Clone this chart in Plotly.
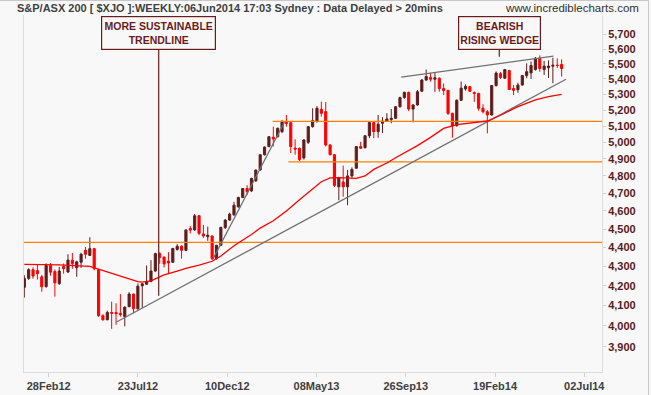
import pandas as pd
import plotly.graph_objects as go

# ---------------- data ----------------
first_week = "2012-01-27"   # weekly bars, Friday dates

opens = [4192, 4238, 4283, 4278, 4246, 4196, 4305, 4273, 4212, 4300,
         4271, 4333, 4293, 4322, 4385, 4358, 4394, 4283, 4050, 4030,
         4066, 4066, 4062, 4046, 4095, 4158, 4084, 4200, 4208, 4222,
         4276, 4367, 4349, 4328, 4322, 4390, 4407, 4385, 4503, 4495,
         4573, 4473, 4458, 4462, 4341, 4412, 4508, 4549, 4579, 4623,
         4676, 4727, 4713, 4771, 4835, 4925, 4974, 5031, 5034, 5065,
         5123, 5120, 4965, 4964, 4906, 5000, 5096, 5128, 5205, 5190,
         4984, 4925, 4737, 4765, 4737, 4800, 4845, 4974, 4968, 5040,
         5121, 5065, 5117, 5131, 5140, 5148, 5221, 5279, 5313, 5206,
         5232, 5320, 5393, 5409, 5398, 5405, 5337, 5325, 5180, 5102,
         5262, 5335, 5350, 5312, 5306, 5211, 5189, 5169, 5357, 5435,
         5405, 5455, 5337, 5330, 5360, 5422, 5440, 5462, 5537, 5462,
         5474, 5484, 5491, 5496]

highs = [4254, 4290, 4295, 4310, 4256, 4316, 4318, 4284, 4298, 4315,
         4364, 4371, 4330, 4372, 4403, 4455, 4398, 4286, 4058, 4075,
         4120, 4112, 4158, 4095, 4168, 4160, 4212, 4214, 4305, 4333,
         4372, 4375, 4352, 4375, 4398, 4418, 4412, 4497, 4516, 4583,
         4578, 4522, 4513, 4465, 4414, 4512, 4555, 4590, 4651, 4680,
         4730, 4746, 4790, 4838, 4928, 4975, 5036, 5096, 5090, 5138,
         5169, 5125, 5018, 4968, 5018, 5100, 5211, 5225, 5253, 5250,
         4988, 4930, 4795, 4860, 4835, 4850, 4977, 5003, 5044, 5127,
         5124, 5169, 5155, 5180, 5206, 5224, 5285, 5317, 5317, 5237,
         5328, 5400, 5462, 5441, 5446, 5410, 5370, 5330, 5182, 5267,
         5383, 5365, 5355, 5318, 5310, 5236, 5200, 5360, 5450, 5446,
         5465, 5460, 5360, 5375, 5427, 5503, 5516, 5546, 5557, 5520,
         5523, 5541, 5537, 5530]

lows = [4140, 4230, 4236, 4232, 4170, 4190, 4252, 4145, 4204, 4262,
        4266, 4288, 4246, 4292, 4341, 4355, 4280, 4045, 4026, 4028,
        3986, 4005, 4045, 3998, 4092, 4062, 4080, 4088, 4205, 4218,
        4272, 4314, 4295, 4262, 4318, 4383, 4341, 4380, 4476, 4490,
        4466, 4452, 4436, 4333, 4335, 4408, 4500, 4545, 4572, 4618,
        4672, 4689, 4708, 4766, 4830, 4920, 4970, 4974, 5030, 5056,
        5096, 4935, 4925, 4886, 4896, 4990, 5090, 5120, 5159, 4975,
        4922, 4735, 4660, 4680, 4632, 4787, 4842, 4960, 4962, 5025,
        5025, 5028, 5056, 5125, 5117, 5145, 5215, 5272, 5193, 5123,
        5228, 5315, 5387, 5383, 5317, 5317, 5295, 5169, 5028, 5096,
        5258, 5323, 5315, 5252, 5196, 5179, 5055, 5165, 5350, 5400,
        5400, 5328, 5295, 5310, 5358, 5405, 5400, 5455, 5448, 5427,
        5407, 5372, 5473, 5416]

closes = [4238, 4283, 4250, 4262, 4195, 4305, 4270, 4215, 4276, 4288,
          4333, 4315, 4324, 4364, 4364, 4394, 4288, 4050, 4030, 4066,
          4062, 4060, 4055, 4093, 4158, 4084, 4198, 4210, 4222, 4276,
          4367, 4348, 4313, 4318, 4395, 4407, 4385, 4495, 4494, 4573,
          4476, 4462, 4466, 4341, 4412, 4509, 4549, 4582, 4632, 4676,
          4727, 4708, 4785, 4834, 4925, 4971, 5034, 5020, 5086, 5127,
          5117, 4974, 4959, 4896, 5014, 5096, 5133, 5211, 5179, 4984,
          4925, 4745, 4788, 4737, 4800, 4838, 4974, 4964, 5040, 5121,
          5065, 5111, 5131, 5144, 5148, 5221, 5279, 5313, 5206, 5232,
          5317, 5393, 5416, 5398, 5408, 5337, 5325, 5179, 5100, 5262,
          5340, 5352, 5320, 5306, 5211, 5189, 5169, 5357, 5439, 5410,
          5462, 5331, 5326, 5360, 5422, 5448, 5489, 5537, 5469, 5485,
          5485, 5491, 5489, 5469]

# moving average (red line)
ma_dates = ["2012-01-27", "2012-03-23", "2012-05-11", "2012-05-25", "2012-06-01",
            "2012-06-15", "2012-07-06", "2012-07-13", "2012-07-27", "2012-08-03",
            "2012-08-17", "2012-08-31", "2012-09-07", "2012-09-28", "2012-10-12",
            "2012-11-02", "2012-11-23", "2012-12-07", "2012-12-28", "2013-01-25",
            "2013-02-08", "2013-03-01", "2013-03-22", "2013-04-12", "2013-05-03",
            "2013-05-17", "2013-05-31", "2013-06-14", "2013-07-12", "2013-07-26",
            "2013-08-09", "2013-08-30", "2013-09-13", "2013-10-04", "2013-10-18",
            "2013-11-08", "2013-11-29", "2013-12-20", "2014-01-17", "2014-02-07",
            "2014-02-28", "2014-03-28", "2014-04-25", "2014-05-16", "2014-06-06"]
ma_values = [4311, 4308, 4300, 4285, 4277,
             4264, 4243, 4235, 4221, 4219,
             4225, 4246, 4256, 4275, 4290,
             4307, 4327, 4355, 4409, 4470,
             4505, 4545, 4600, 4663, 4722,
             4766, 4788, 4790, 4786, 4800,
             4838, 4876, 4907, 4950, 4980,
             5030, 5085, 5108, 5122, 5131,
             5167, 5221, 5265, 5286, 5300]

# horizontal support / resistance levels (orange)
level_values = [4427, 4882, 5129]
level_starts = ["2012-01-26 12:00", "2013-03-25", "2013-02-28"]

# trendlines (grey): start date, start price, end date, end price
trend_start_dates = ["2012-06-22", "2012-11-24", "2013-09-22"]
trend_start_prices = [4018, 4337, 5412]
trend_end_dates = ["2014-06-13", "2013-03-19", "2014-05-24"]
trend_end_prices = [5398, 5125, 5552]

x_tick_labels = ["28Feb12", "23Jul12", "10Dec12", "08May13", "26Sep13", "19Feb14", "02Jul14"]
y_tick_values = list(range(3900, 5800, 100))

title_text = "S&amp;P/ASX 200 [ $XJO ]:WEEKLY:06Jun2014 17:03 Sydney : Data Delayed &gt; 20mins"
site_text = "www.incrediblecharts.com"
note1_text = "MORE SUSTAINABLE<br>TRENDLINE"
note2_text = "BEARISH<br>RISING WEDGE"

# ---------------- styling ----------------
BG = "#F8F8F8"
DARK = "#5E1D1D"
RED = "#FF0000"
ORANGE = "#FF8000"
GREY = "#707070"
MAROON = "#6A1C1C"
AXIS = "#DCDCDC"
FRAME = "#C8C8C8"
FONT = "Liberation Sans"

dates = pd.date_range(first_week, periods=len(closes), freq="7D")
x_left = pd.Timestamp("2012-01-26 12:30")
x_right = pd.Timestamp("2014-08-09 17:00")
x_tick_start = pd.Timestamp("2012-03-06 03:00")
x_tick_step = pd.Timedelta(days=143.04)
x_tickvals = [x_tick_start + k * x_tick_step for k in range(len(x_tick_labels))]

fig = go.Figure()

for lvl, start in zip(level_values, level_starts):
    fig.add_trace(go.Scatter(x=[pd.Timestamp(start), x_right], y=[lvl, lvl], mode="lines",
                             line=dict(color=ORANGE, width=1.3), hoverinfo="skip", showlegend=False))

for sd, sp, ed, ep in zip(trend_start_dates, trend_start_prices, trend_end_dates, trend_end_prices):
    fig.add_trace(go.Scatter(x=[sd, ed], y=[sp, ep], mode="lines",
                             line=dict(color=GREY, width=1.3), hoverinfo="skip", showlegend=False))

fig.add_trace(go.Scatter(x=ma_dates, y=ma_values, mode="lines",
                         line=dict(color=RED, width=1.3), hoverinfo="skip", showlegend=False))

fig.add_trace(go.Candlestick(
    x=dates, open=opens, high=highs, low=lows, close=closes,
    increasing=dict(line=dict(color=DARK, width=1), fillcolor=DARK),
    decreasing=dict(line=dict(color=RED, width=1), fillcolor=RED),
    whiskerwidth=0, showlegend=False, hoverinfo="skip"))

# plot area: x 24..602 px, y 15..372 px
def px_x(px):
    return (px - 24) / 578.0

def px_y(py):
    return (372 - py) / 357.0

annotations = [
    dict(text=title_text, x=px_x(15), y=px_y(7.5), xref="paper", yref="paper",
         xanchor="left", yanchor="middle", showarrow=False,
         font=dict(family=FONT, size=11, color="#404040", weight="bold")),
    dict(text=site_text, x=px_x(641), y=px_y(7.5), xref="paper", yref="paper",
         xanchor="right", yanchor="middle", showarrow=False,
         font=dict(family=FONT, size=11.5, color="#303030")),
    dict(text=note1_text, x=px_x(158), y=px_y(32.7), xref="paper", yref="paper",
         xanchor="center", yanchor="middle", showarrow=False, width=111, height=30,
         bordercolor=MAROON, borderwidth=1.2, borderpad=1, bgcolor=BG,
         font=dict(family=FONT, size=10.5, color=MAROON, weight="bold")),
    dict(text=note2_text, x=px_x(499.3), y=px_y(33), xref="paper", yref="paper",
         xanchor="center", yanchor="middle", showarrow=False, width=79, height=30,
         bordercolor=MAROON, borderwidth=1.2, borderpad=1, bgcolor=BG,
         font=dict(family=FONT, size=10.5, color=MAROON, weight="bold")),
]

shapes = [
    dict(type="line", xref="paper", yref="paper", x0=px_x(158.7), x1=px_x(158.7),
         y0=px_y(49.7), y1=px_y(295.7), line=dict(color=MAROON, width=1.2)),
    dict(type="line", xref="paper", yref="paper", x0=px_x(499.3), x1=px_x(499.3),
         y0=px_y(50), y1=px_y(56.7), line=dict(color=MAROON, width=1.2)),
    dict(type="line", xref="paper", yref="paper", x0=px_x(0), x1=px_x(648.5),
         y0=px_y(0.5), y1=px_y(0.5), line=dict(color=FRAME, width=1)),
    dict(type="line", xref="paper", yref="paper", x0=px_x(648.5), x1=px_x(648.5),
         y0=px_y(0.5), y1=px_y(395), line=dict(color=FRAME, width=1)),
]

fig.update_layout(
    width=651, height=395,
    margin=dict(l=24, r=49, t=15, b=23, autoexpand=False),
    paper_bgcolor=BG, plot_bgcolor=BG,
    showlegend=False,
    annotations=annotations, shapes=shapes,
    xaxis=dict(type="date", range=[x_left, x_right], tickvals=x_tickvals, ticktext=x_tick_labels,
               ticks="outside", ticklen=4, tickcolor="#D0D0D0", showline=True, linecolor=AXIS,
               linewidth=1, showgrid=False, zeroline=False, rangeslider=dict(visible=False),
               automargin=False,
               tickfont=dict(family=FONT, size=11, color="#404040", weight="bold")),
    yaxis=dict(type="log", range=[3.577756, 3.766147], side="right", tickvals=y_tick_values,
               tickformat=",", ticks="outside", ticklen=3, tickcolor="#D0D0D0",
               showline=True, mirror=True, linecolor=AXIS, linewidth=1,
               showgrid=False, zeroline=False, automargin=False,
               tickfont=dict(family=FONT, size=11, color="#5A1A1A", weight="bold")),
)

fig.write_html("out.html", config={"displayModeBar": False, "staticPlot": True},
               post_script="document.body.style.margin='0px';document.body.style.overflow='hidden';")
